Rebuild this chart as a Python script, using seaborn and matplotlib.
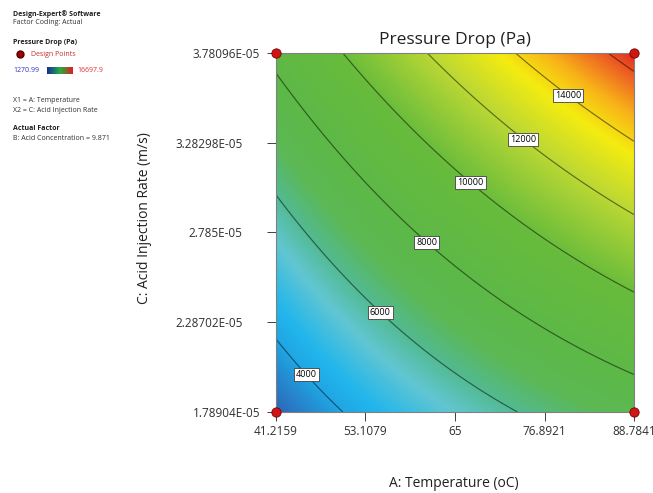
import numpy as np
import pandas as pd
import seaborn as sns
import matplotlib
matplotlib.use("Agg")
import matplotlib.pyplot as plt
from matplotlib.colors import LinearSegmentedColormap, Normalize

# ---------------- data ----------------
temp_ticks = [41.2159, 53.1079, 65, 76.8921, 88.7841]
temp_tick_labels = ["41.2159", "53.1079", "65", "76.8921", "88.7841"]
rate_ticks = [1.78904e-05, 2.28702e-05, 2.785e-05, 3.28298e-05, 3.78096e-05]
rate_tick_labels = ["1.78904E-05", "2.28702E-05", "2.785E-05", "3.28298E-05", "3.78096E-05"]
contour_levels = [4000, 6000, 8000, 10000, 12000, 14000, 16000]
labelled_levels = [4000, 6000, 8000, 10000, 12000, 14000]
# quadratic response-surface model in coded units (estimated from the contours)
coef_names = ["Intercept", "A", "C", "AC", "A^2", "C^2"]
coef_values = [8672.0, 3044.0, 3657.0, 1047.0, -188.0, 310.0]
design_temp = [41.2159, 88.7841, 41.2159, 88.7841]
design_rate = [1.78904e-05, 1.78904e-05, 3.78096e-05, 3.78096e-05]
resp_min, resp_max = 1270.99, 16697.9

# ---------------- style ----------------
sns.set_theme(style="white")
plt.rcParams["font.family"] = ["Open Sans", "DejaVu Sans"]

cmap = LinearSegmentedColormap.from_list("de", [
    (0.00, "#1a3c9c"), (0.12, "#2e66b6"), (0.175, "#1fa6e4"), (0.205, "#22b6ec"),
    (0.26, "#62c6d2"), (0.307, "#52ba90"), (0.36, "#5cb854"), (0.42, "#5cb848"),
    (0.56, "#68bc3c"), (0.70, "#bcd834"), (0.80, "#f4ec10"), (0.87, "#f8b418"),
    (0.94, "#ee6422"), (1.00, "#e01e1e")])
norm = Normalize(resp_min, resp_max)

# ---------------- surface ----------------
tc, th = 65.0, 23.7841
rc, rh = 2.785e-05, 0.99596e-05
T = np.linspace(temp_ticks[0], temp_ticks[-1], 300)
R = np.linspace(rate_ticks[0], rate_ticks[-1], 300)
TT, RR = np.meshgrid(T, R)
A = (TT - tc) / th
C = (RR - rc) / rh
b = dict(zip(coef_names, coef_values))
Z = (b["Intercept"] + b["A"] * A + b["C"] * C + b["AC"] * A * C
     + b["A^2"] * A ** 2 + b["C^2"] * C ** 2)

fig = plt.figure(figsize=(6.53, 4.93), dpi=100)
ax = fig.add_axes([276 / 653, 81 / 493, 358 / 653, 359 / 493])

ax.imshow(Z, extent=[T[0], T[-1], R[0], R[-1]], origin="lower", aspect="auto",
          cmap=cmap, norm=norm, interpolation="bilinear")
line_colors = [tuple(np.array(cmap(norm(l))[:3]) * 0.5) for l in contour_levels]
cs = ax.contour(TT, RR, Z, levels=contour_levels, colors=line_colors, linewidths=0.85)

label_frac = [(0.1006, 0.117), (0.299, 0.287), (0.425, 0.478),
              (0.547, 0.643), (0.696, 0.766), (0.824, 0.891)]
manual = [(T[0] + u * (T[-1] - T[0]), R[0] + v * (R[-1] - R[0])) for u, v in label_frac]
texts = ax.clabel(cs, levels=labelled_levels, fmt="%d", manual=manual,
                  inline=False, fontsize=6.5, colors="black")
for t in texts:
    t.set_rotation(0)
    t.set_bbox(dict(facecolor="white", edgecolor="#404040", linewidth=0.6, pad=1.4))
    t.set_zorder(8)

pts = pd.DataFrame({"temp": design_temp, "rate": design_rate})
sns.scatterplot(data=pts, x="temp", y="rate", ax=ax, s=45, color="#d01515",
                edgecolor="#7a0000", linewidth=0.6, clip_on=False, zorder=10, legend=False)

ax.set_xlim(T[0], T[-1])
ax.set_ylim(R[0], R[-1])
ax.set_xticks(temp_ticks)
ax.set_xticklabels(temp_tick_labels)
ax.set_yticks(rate_ticks)
ax.set_yticklabels(rate_tick_labels)
ax.tick_params(axis="both", direction="out", length=6.5, width=0.7, color="#404040",
               labelsize=8.5, labelcolor="#303030")
ax.tick_params(axis="x", pad=3)
ax.tick_params(axis="y", pad=5)
ax.tick_params(left=True, bottom=True)
yt = ax.yaxis.get_major_ticks()
for tk in yt[1:-1]:
    tk.set_pad(5 + 12.5)
for sp in ax.spines.values():
    sp.set_color("#808080")
    sp.set_linewidth(0.8)

ax.set_xlabel("A: Temperature (oC)", fontsize=10, color="#202020")
ax.set_ylabel("C: Acid Injection Rate (m/s)", fontsize=10, color="#202020")
ax.xaxis.set_label_coords(0.497, -0.177)
ax.yaxis.set_label_coords(-0.346, 0.54)
ax.text(0.5, 1.036, "Pressure Drop (Pa)", transform=ax.transAxes, ha="center",
        va="center", fontsize=12.5, color="#202020")

# ---------------- side legend ----------------
def ftext(x, y, s, **kw):
    fig.text(x / 653, 1 - y / 493, s, va="center", ha="left", fontsize=5, **kw)

ftext(13, 14, "Design-Expert® Software", weight="bold", color="#202020")
ftext(13, 23, "Factor Coding: Actual", color="#303030")
ftext(13, 43, "Pressure Drop (Pa)", weight="bold", color="#202020")
fig.add_artist(plt.Line2D([20 / 653], [1 - 54 / 493], marker="o", markersize=5,
                          color="#a00000", markeredgecolor="#500000",
                          transform=fig.transFigure))
ftext(31, 54, "Design Points", color="#c03030")
ftext(13, 70, "1270.99", color="#3030c0")
cax = fig.add_axes([47 / 653, 1 - 74 / 493, 26 / 653, 7 / 493])
cax.imshow(np.linspace(0, 1, 100)[None, :],
           cmap=LinearSegmentedColormap.from_list("lg", ["#1a2a9c", "#20b040", "#e01e1e"]),
           aspect="auto")
cax.set_xticks([])
cax.set_yticks([])
for sp in cax.spines.values():
    sp.set_visible(False)
ftext(77, 70, "16697.9", color="#e03030")
ftext(13, 101, "X1 = A: Temperature", color="#303030")
ftext(13, 111, "X2 = C: Acid Injection Rate", color="#303030")
ftext(13, 128, "Actual Factor", weight="bold", color="#202020")
ftext(13, 139, "B: Acid Concentration = 9.871", color="#303030")

fig.savefig("out.png", dpi=100)
